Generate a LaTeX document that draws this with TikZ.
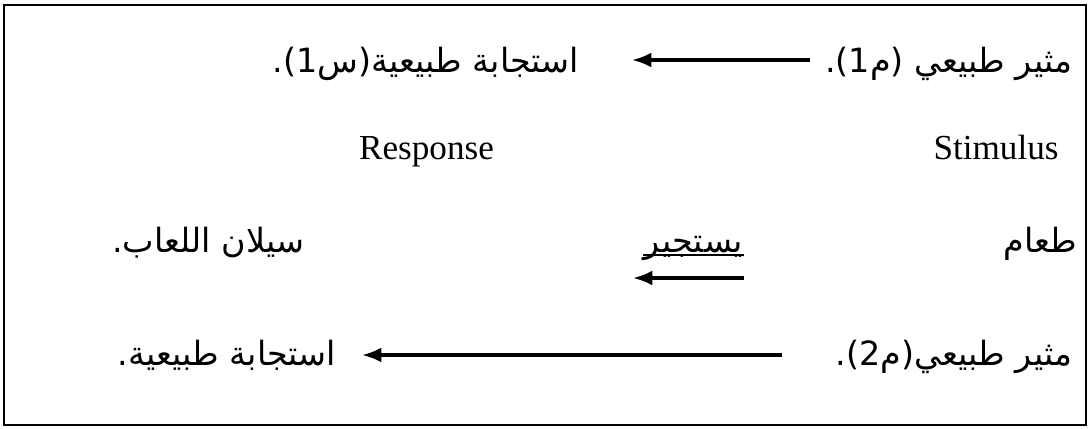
\documentclass[tikz,border=0pt]{standalone}
\usepackage{fontspec}
\setmainfont{Liberation Serif}
\newfontfamily\arabicfont[Script=Arabic]{DejaVu Sans}
\TeXXeTstate=1
\usetikzlibrary{arrows.meta}

\begin{document}
\begin{tikzpicture}[>=Latex,line width=1pt,
  ar/.style={font=\arabicfont\fontsize{19}{23}\selectfont,inner sep=0pt,anchor=base east},
  en/.style={font=\fontsize{20}{24}\selectfont,inner sep=0pt,anchor=base},
  link/.style={-{Latex[length=11pt,width=8.5pt]},line width=1.9pt}]
  \useasboundingbox (0,0) rectangle (21.78,8.56);
  \draw (0.08,0.06) rectangle (21.72,8.46);
  % first pair
  \node[ar] (s1) at (21.46,7.12) {\beginR مثير طبيعي (م1).\endR};
  \node[ar] (r1) at (11.60,7.12) {\beginR استجابة طبيعية(س1).\endR};
  \coordinate (t1) at (12.64,7.36);
  \draw[link,shorten <=0.28cm] (s1.west |- t1) -- (t1);
  % labels
  \node[en] (resp) at (8.53,5.38) {Response};
  \node[en] (stim) at (19.92,5.38) {Stimulus};
  % food and saliva
  \node[ar] (food) at (21.56,3.52) {\beginR طعام\endR};
  \node[ar,anchor=base] (verb) at (13.87,3.52) {\beginR يستجير\endR};
  \node[ar] (saliva) at (6.10,3.52) {\beginR سيلان اللعاب.\endR};
  \draw[line width=1.1pt] ([yshift=-0.06cm]verb.base west) -- ([yshift=-0.06cm]verb.base east);
  \coordinate (t3) at (12.66,3.00);
  \draw[link] (verb.east |- t3) -- (t3);
  % second pair
  \node[ar] (s2) at (21.46,1.26) {\beginR مثير طبيعي(م2).\endR};
  \node[ar] (r2) at (6.74,1.26) {\beginR استجابة طبيعية.\endR};
  \coordinate (t4) at (7.24,1.46);
  \draw[link,shorten <=1.06cm] (s2.west |- t4) -- (t4);
\end{tikzpicture}
\end{document}
